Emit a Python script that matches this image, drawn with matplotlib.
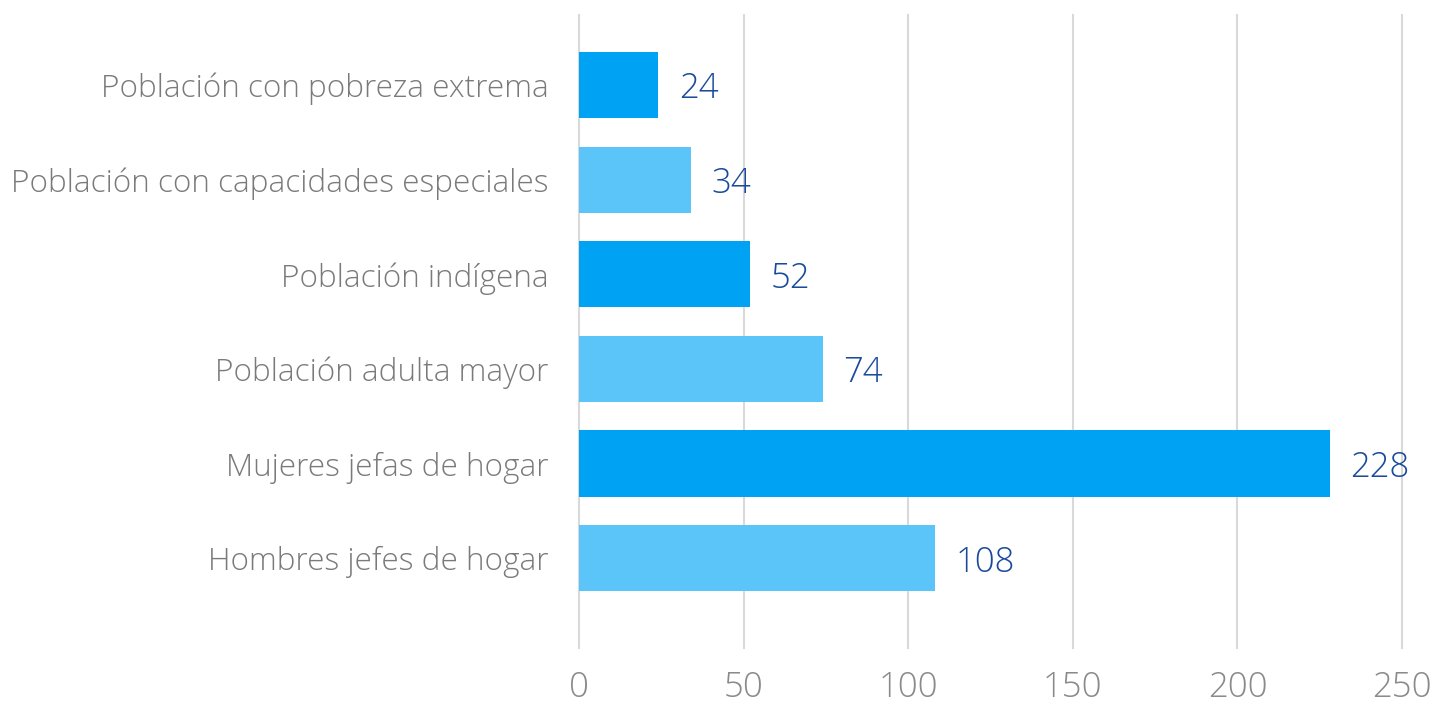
import matplotlib
matplotlib.use("Agg")
import matplotlib.pyplot as plt

# Data
categories = [
    "Población con pobreza extrema",
    "Población con capacidades especiales",
    "Población indígena",
    "Población adulta mayor",
    "Mujeres jefas de hogar",
    "Hombres jefes de hogar",
]
values = [24, 34, 52, 74, 228, 108]
xticks = [0, 50, 100, 150, 200, 250]

dark_blue = "#00A3F4"
light_blue = "#5BC4F8"
bar_colors = [dark_blue, light_blue] * 3

plt.rcParams["font.family"] = ["Open Sans", "DejaVu Sans"]

fig = plt.figure(figsize=(14.36, 7.05), dpi=100)
ax = fig.add_axes([579 / 1436, 57 / 705, (1402 - 579) / 1436, 633 / 705])

ypos = list(range(len(categories)))
ax.barh(ypos, values, height=0.7, color=bar_colors, zorder=3)

for y, v in zip(ypos, values):
    ax.annotate(str(v), xy=(v, y), xytext=(15, -3), textcoords="offset points",
                va="center", ha="left", fontsize=25, color="#1A4A9C",
                fontweight="light")

ax.set_yticks(ypos)
ax.set_yticklabels(categories, fontsize=22.7, color="#7A7A7A", fontweight="light")
ax.set_xticks(xticks)
ax.set_xticklabels([str(t) for t in xticks], fontsize=25, color="#8A8A8A",
                   fontweight="light")
ax.set_xlim(0, 250)
ax.set_ylim(5.95, -0.74)

ax.grid(axis="x", color="#D9D9D9", linewidth=1.5, zorder=0)
ax.tick_params(axis="both", length=0)
ax.tick_params(axis="y", pad=22)
ax.tick_params(axis="x", pad=16)
for s in ax.spines.values():
    s.set_visible(False)
for gl in ax.get_xgridlines():
    gl.set_clip_on(False)

fig.savefig("out.png", dpi=100)
